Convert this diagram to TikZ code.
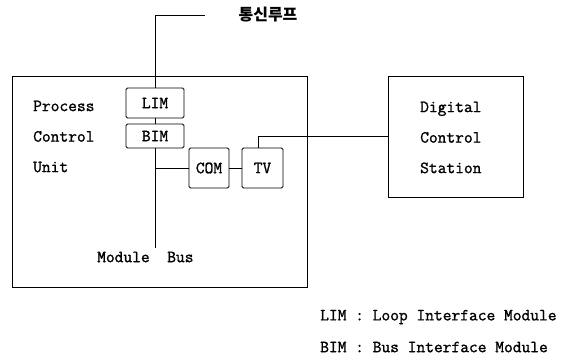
\documentclass[tikz,border=0pt]{standalone}
\usepackage{fontspec}
\newfontfamily\krfont{Noto Sans CJK KR}
\newfontfamily\pcufont{Latin Modern Mono}[FakeBold=1.3]

\begin{document}
\begin{tikzpicture}[
    x=1pt, y=-1pt,
    unit/.style={draw=black, line width=0.9pt,
                 inner sep=0pt},
    module/.style={draw=black, line width=0.9pt, rounded corners=1.5pt,
                   font=\pcufont\fontsize{17}{20}\selectfont,
                   inner sep=0pt},
    wire/.style={line width=0.9pt, black},
    lbl/.style={font=\pcufont\fontsize{17}{20}\selectfont,
                inner sep=0pt, anchor=west, align=left},
]
\useasboundingbox (0,0) rectangle (578,360);

% Process Control Unit (left)
\node[unit, minimum width=295pt, minimum height=211pt] (pcu) at (159.5, 181.5) {};
\node[lbl] (pcutext) at (33, 136.5)
    {Process\\[10.5pt]Control\\[10.5pt]Unit};

\node[module, minimum width=58pt, minimum height=30pt] (lim) at (155, 103) {LIM};
\node[module, minimum width=58pt, minimum height=24pt] (bim) at (155, 136) {BIM};
\node[module, minimum width=40pt, minimum height=40pt] (com) at (209, 168) {COM};
\node[module, minimum width=41pt, minimum height=40pt] (tv) at (262.5, 168) {TV};

\draw[wire] (lim) -- (bim);
\draw[wire] (com) -- (tv);

% communication loop
\coordinate (loopend) at (205, 15);
\node[font=\krfont\bfseries\fontsize{16}{18}\selectfont, inner sep=0pt]
    (looplbl) at (268, 15) {통신루프};
\draw[wire] (lim.north) |- (loopend);

% module bus
\coordinate (busend) at (155, 248);
\draw[wire] (bim.south) -- (busend);
\draw[wire] (bim.south |- com.west) -- (com.west);
\node[lbl] (buslbl) at (97, 257) {Module~~Bus};

% Digital Control Station (right)
\node[unit, minimum width=135pt, minimum height=121pt] (dcs) at (455.5, 136.5) {};
\node[lbl] (dcstext) at (420, 137.5)
    {Digital\\[10.5pt]Control\\[10.5pt]Station};
\draw[wire] ([xshift=-4.5pt]tv.north) |- (dcs.west);

% legend
\node[lbl] (leglim) at (320, 317) {LIM : Loop Interface Module};
\node[lbl] (legbim) at (320, 347) {BIM : Bus Interface Module};

\end{tikzpicture}
\end{document}
